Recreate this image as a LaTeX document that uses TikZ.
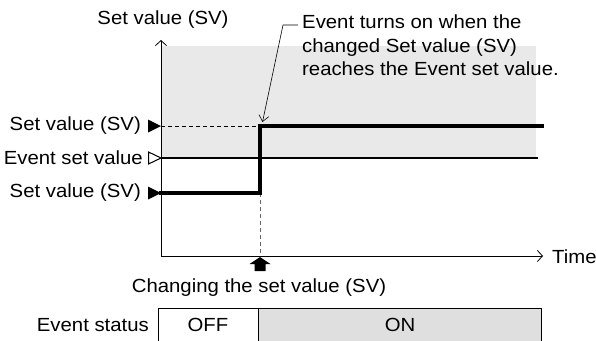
\documentclass[tikz,border=0pt]{standalone}
\usepackage{fontspec}
\setmainfont{Liberation Sans}[FakeStretch=1.07]
\usetikzlibrary{arrows.meta}
\begin{document}
\begin{tikzpicture}[x=1pt,y=-1pt,
  txt/.style={inner sep=0pt,font=\fontsize{19}{23.5}\selectfont},
  axis/.style={line width=0.8pt,-{Straight Barb[length=5pt,width=11pt]}},
  thickline/.style={line width=3.2pt},
  evline/.style={line width=1.7pt},
  guide/.style={dashed,line width=0.7pt,dash pattern=on 4pt off 3pt},
  filltri/.style={fill=black},
  opentri/.style={draw=black,fill=white,line width=1pt},
]
\useasboundingbox (0,0) rectangle (596,340);
% shaded region
\fill[gray!17] (161,46) rectangle (536,157);
% axes
\coordinate (O) at (161,256);
\coordinate (ytop) at (161,40);
\coordinate (xend) at (543,256);
\draw[axis] (O) -- (ytop);
\draw[axis] (O) -- (xend);
% levels
\coordinate (svlo) at (161,193);
\coordinate (svstep) at (260,193);
\coordinate (svup) at (260,126);
\coordinate (svhi) at (161,126);
\coordinate (svend) at (542,126);
\coordinate (ev0) at (161,158);
\coordinate (ev1) at (538,158);
\coordinate (tchg) at (260,256);
\draw[guide] (svhi) -- (svup);
\draw[guide,gray!80!black] (svstep) -- (tchg);
\draw[evline] (ev0) -- (ev1);
\draw[thickline,line cap=rect] (svlo) -- (svstep) -- (svup) -- (svend);
% triangles
\fill[filltri] (svhi) -- ++(-13,-6.5) -- ++(0,13) -- cycle;
\fill[filltri] (svlo) -- ++(-13,-6.5) -- ++(0,13) -- cycle;
\draw[opentri] (ev0) -- ++(-12.5,-6) -- ++(0,12) -- cycle;
% left labels
\node[txt,anchor=east] (lsvhi) at (141,126) {Set value (SV)};
\node[txt,anchor=east] (lev) at (143,158) {Event set value};
\node[txt,anchor=east] (lsvlo) at (141,193) {Set value (SV)};
\node[txt] (ylab) at (163,20) {Set value (SV)};
\node[txt,anchor=west] (tlab) at (552,257) {Time};
% block arrow
\fill (260,257) -- (270.5,264) -- (265.5,264) -- (265.5,271) -- (254.5,271) -- (254.5,264) -- (249.5,264) -- cycle;
\node[txt] (chg) at (259,288) {Changing the set value (SV)};
% event status table
\fill[gray!25] (258,308) rectangle (541,342);
\draw[line width=0.8pt] (158,342) -- (158,308) -- (541,308) -- (541,342);
\draw[line width=0.8pt] (258,308) -- (258,342);
\node[txt,anchor=east] (es) at (149,325) {Event status};
\node[txt] (off) at (208,325) {OFF};
\node[txt] (on) at (400,325) {ON};
% annotation
\node[txt,anchor=north west,align=left] (note) at (302,15) {Event turns on when the\\changed Set value (SV)\\reaches the Event set value.};
\coordinate (lk) at (283,25);
\draw[line width=0.6pt,-{Straight Barb[length=6pt,width=10pt]}] (note.west|-lk) ++(-4,0) -- (lk) -- (262.5,122);
\end{tikzpicture}
\end{document}
